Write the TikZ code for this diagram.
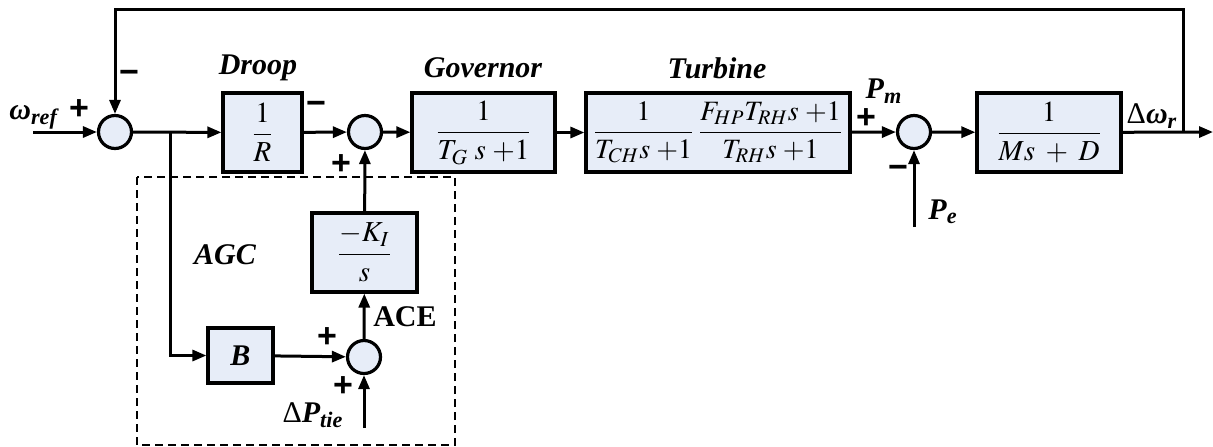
\documentclass[tikz,border=0pt]{standalone}
\usepackage{amsmath}
\usepackage{mathptmx}
\usepackage{fontspec}
\setmainfont{Liberation Serif}
\newfontfamily\signfont{Liberation Sans}
\usetikzlibrary{arrows.meta, positioning}
\definecolor{blockFill}{RGB}{231,237,248}
\newcommand{\bi}[1]{\textbf{\textit{#1}}}
\newcommand{\pone}{\;{+}1}

\begin{document}
\begin{tikzpicture}[
      x=0.5pt, y=-0.5pt,
      block/.style={
        rectangle, draw, fill=blockFill, line width=1.6pt,
        minimum height=39.5pt, inner sep=0pt,
        font=\fontsize{14.5}{17}\selectfont
      },
      sumpt/.style={circle, draw, fill=blockFill, line width=1.6pt,
        minimum size=16.5pt, inner sep=0pt},
      title/.style={font=\fontsize{15}{17}\selectfont\bfseries\itshape, inner sep=0pt},
      sign/.style={font=\fontsize{17}{17}\selectfont\signfont\bfseries, inner sep=0pt},
      wire/.style={line width=1.5pt},
      arrow/.style={wire, -{Triangle[length=7pt, width=5.5pt]}},
    ]
      \useasboundingbox (0,0) rectangle (1213,446);

      % AGC frame
      \draw[line width=0.7pt, dash pattern=on 4pt off 2.5pt] (137,177) rectangle (455,445);

      % forward path
      \node[sumpt] (s1) at (115,132) {};
      \node[block, minimum width=39.5pt] (droop) at (262.5,132.5) {$\dfrac{1}{R}$};
      \node[sumpt] (s2) at (365,132) {};
      \node[block, minimum width=71.5pt] (gov) at (483.5,132.5) {$\dfrac{1}{T_G\;s\pone}$};
      \node[block, minimum width=132pt, font=\fontsize{14}{17}\selectfont] (turb) at (718,132.5)
        {$\dfrac{1}{T_{CH}s\pone}\,\dfrac{F_{HP}T_{RH}s\pone}{T_{RH}s\pone}$};
      \node[sumpt] (s3) at (914,132) {};
      \node[block, minimum width=72pt] (plant) at (1049,132.5) {$\dfrac{1}{Ms\;+\;D}$};

      % AGC loop
      \node[block, minimum width=52.5pt] (kint) at (364.5,252.5) {$\dfrac{-K_I}{s}$};
      \node[block, minimum width=32.5pt, minimum height=27.5pt,
        font=\fontsize{15}{17}\selectfont] (bias) at (240.5,355.5) {\bi{B}};
      \node[sumpt] (s4) at (364,357) {};

      \coordinate (in) at (33,132);
      \coordinate (out) at (1213,132);
      \coordinate (tap) at (1183,132);
      \coordinate (br) at (170,132);
      \coordinate (pe) at (914,227);
      \coordinate (ptie) at (364,428);

      \draw[arrow] (in) -- (s1);
      \draw[arrow] (s1) -- (droop);
      \draw[arrow] (droop) -- (s2);
      \draw[arrow] (s2) -- (gov);
      \draw[arrow] (gov) -- (turb);
      \draw[arrow] (turb) -- (s3);
      \draw[arrow] (s3) -- (plant);
      \draw[arrow] (plant) -- (out);
      \draw[arrow] (tap) -- (1183,9) -| (s1);
      \draw[arrow] (pe) -- (s3);

      \draw[arrow] (br) |- (bias);
      \draw[arrow] (bias) -- (s4);
      \draw[arrow] (ptie) -- (s4);
      \draw[arrow] (s4) -- (kint);
      \draw[arrow] (kint) -- (s2);

      % block titles
      \node[title] (tDroop) at (258,68) {Droop};
      \node[title] (tGov) at (483,68) {Governor};
      \node[title] (tTurb) at (717,68) {Turbine};
      \node[title] (tAgc) at (225,255) {AGC};
      \node[font=\fontsize{15}{17}\selectfont\bfseries, inner sep=0pt] (tAce) at (405,317) {ACE};

      % signals
      \node[title, anchor=west] (wref) at (9,117) {ω\textsubscript{ref}};
      \node[title] (pm) at (884,91) {P\textsubscript{m}};
      \node[title] (pel) at (943,212) {P\textsubscript{e}};
      \node[title] (dw) at (1152,116) {\textup{\mdseries Δ}ω\textsubscript{r}};
      \node[title] (dpt) at (313,415) {\textup{\mdseries Δ}P\textsubscript{tie}};

      % signs at the summing points
      \node[sign] (g1) at (79,110) {+};
      \node[sign] (g2) at (129,77) {−};
      \node[sign] (g3) at (316,108) {−};
      \node[sign] (g4) at (341,165) {+};
      \node[sign] (g5) at (866,119) {+};
      \node[sign] (g6) at (898,172) {−};
      \node[sign] (g7) at (327,338) {+};
      \node[sign] (g8) at (343,387) {+};
    \end{tikzpicture}
\end{document}
